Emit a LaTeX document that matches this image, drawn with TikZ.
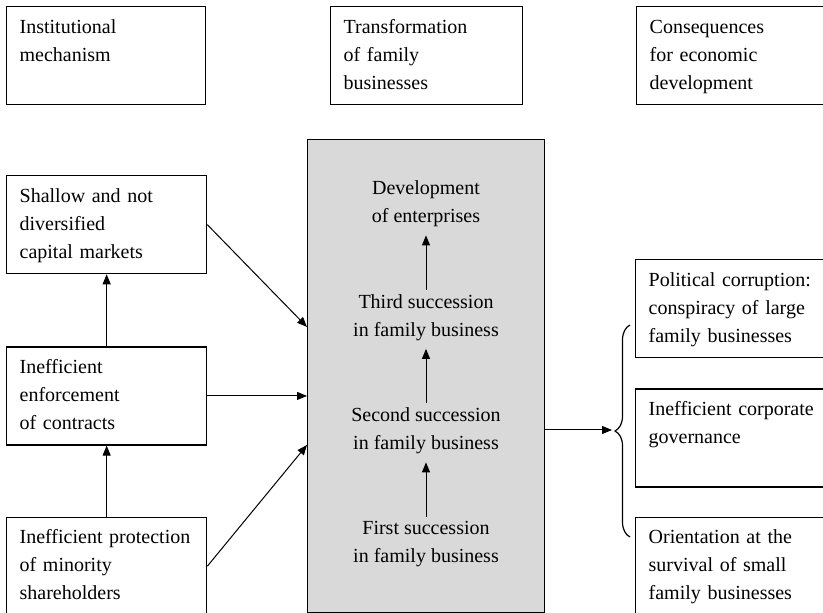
\documentclass[tikz,border=0pt]{standalone}
\usepackage{fontspec}
\setmainfont{Liberation Serif}
\usetikzlibrary{positioning,arrows.meta,decorations.pathreplacing}

\begin{document}
\begin{tikzpicture}[x=0.5pt,y=-0.5pt,
    txt/.style={font=\fontsize{10}{14}\selectfont},
    box/.style={txt,draw,line width=0.65pt,anchor=north west,align=left,inner xsep=6.5pt,inner ysep=2pt,
                minimum height=49pt,execute at begin node=\strut,execute at end node=\strut},
    stage/.style={txt,align=center,inner xsep=0pt,inner ysep=2pt,execute at begin node=\strut,execute at end node=\strut},
    arr/.style={-{Triangle[length=5pt,width=4pt]},line width=0.5pt}]
  \useasboundingbox (0,0) rectangle (823,613);
  % column heads
  \node[box,text width=86.5pt] (hInst) at (6,6) {Institutional\\mechanism\\};
  \node[box,text width=83pt] (hTrans) at (330,6) {Transformation\\of family\\businesses};
  \node[box,text width=84.5pt] (hCons) at (636,6) {Consequences\\for economic\\development};
  % institutions
  \node[box,text width=87pt] (shallow) at (6,175) {Shallow and not\\diversified\\capital markets};
  \node[box,text width=87pt,below=36pt of shallow] (enforce) {Inefficient\\enforcement\\of contracts};
  \node[box,text width=87pt,below=35.5pt of enforce] (protect) {Inefficient protection\\of minority\\shareholders};
  % family business
  \node[draw,fill=black!15,line width=0.65pt,anchor=north west,inner sep=0pt,
        minimum width=118.5pt,minimum height=236.5pt] (core) at (307,139) {};
  \node[stage] (first) at (426,546) {First succession\\in family business};
  \node[stage,above=27.2pt of first] (second) {Second succession\\in family business};
  \node[stage,above=27.2pt of second] (third) {Third succession\\in family business};
  \node[stage,above=27.2pt of third] (devel) {Development\\of enterprises};
  % consequences
  \node[box,text width=84.5pt] (corrupt) at (635,259) {Political corruption:\\conspiracy of large\\family businesses};
  \node[box,text width=84.5pt,below=15pt of corrupt] (govern) {Inefficient corporate\\governance\\};
  \node[box,text width=84.5pt,below=14.5pt of govern] (survive) {Orientation at the\\survival of small\\family businesses};

  \coordinate (in1) at (307,327);
  \coordinate (in3) at (307,445);
  \coordinate (bTop) at (630,325);
  \coordinate (bBot) at (630,537);
  \coordinate (bTip) at (612,430);

  \draw[arr] (enforce) -- (shallow);
  \draw[arr] (protect) -- (enforce);
  \draw[arr] (shallow.east) -- (in1);
  \draw[arr] (enforce.east) -- (enforce.east -| core.west);
  \draw[arr] (protect.east) -- (in3);
  \draw[arr] (first) -- (second);
  \draw[arr] (second) -- (third);
  \draw[arr] (third) -- (devel);
  \draw[arr] (core.east |- bTip) -- (bTip);
  \draw[decorate,decoration={brace,amplitude=7.5pt},line width=0.6pt] (bBot) -- (bTop);
\end{tikzpicture}
\end{document}
